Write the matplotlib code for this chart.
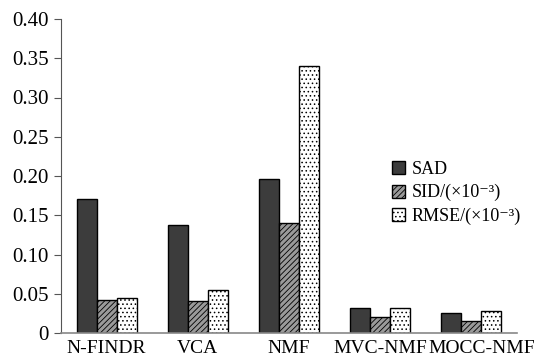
import matplotlib
matplotlib.use("Agg")
import matplotlib.pyplot as plt
import matplotlib.transforms as mtransforms
import numpy as np

categories = ["N-FINDR", "VCA", "NMF", "MVC-NMF", "MOCC-NMF"]
sad = [0.171, 0.138, 0.196, 0.032, 0.025]
sid = [0.042, 0.041, 0.140, 0.021, 0.015]
rmse = [0.044, 0.055, 0.340, 0.032, 0.028]
yticks = [0, 0.05, 0.10, 0.15, 0.20, 0.25, 0.30, 0.35, 0.40]
ytick_labels = ["0", "0.05", "0.10", "0.15", "0.20", "0.25", "0.30", "0.35", "0.40"]
series_labels = ["SAD", "SID/(×10⁻³)", "RMSE/(×10⁻³)"]

plt.rcParams['font.family'] = ['Liberation Serif', 'DejaVu Serif']
plt.rcParams['hatch.linewidth'] = 0.6
plt.rcParams['hatch.color'] = '#222222'

fig = plt.figure(figsize=(5.42, 3.62), dpi=100)
ax = fig.add_axes([61/542, (362-333)/362, (517-61)/542, (333-19)/362])

x = np.arange(len(categories))
w = 0.22
ax.bar(x - w, sad, w, facecolor='#3c3c3c', edgecolor='black', linewidth=1.0, label=series_labels[0])
ax.bar(x, sid, w, facecolor='#9a9a9a', edgecolor='black', linewidth=1.0, hatch='//////', label=series_labels[1])
ax.bar(x + w, rmse, w, facecolor='white', edgecolor='black', linewidth=1.0, hatch='....', label=series_labels[2])

ax.set_xlim(-0.5, 4.5)
ax.set_ylim(0, 0.40)
ax.set_yticks(yticks)
ax.set_yticklabels(ytick_labels)
ax.set_xticks(x)
ax.set_xticklabels(categories)
ax.tick_params(axis='y', direction='out', length=5, width=0.8, color='#555555', labelsize=15, pad=4)
ax.tick_params(axis='x', length=0, labelsize=14, pad=5)
for s in ['top', 'right']:
    ax.spines[s].set_visible(False)
ax.spines['left'].set_color('#555555')
ax.spines['bottom'].set_color('#888888')
ax.spines['bottom'].set_linewidth(1.2)

# nudge last tick label to avoid overlap, as in the reference
lbl = ax.get_xticklabels()[-1]
lbl.set_transform(lbl.get_transform() + mtransforms.ScaledTranslation(10/100, 0, fig.dpi_scale_trans))

leg = ax.legend(loc='upper left', bbox_to_anchor=(0.69, 0.6), frameon=False, fontsize=13,
                handlelength=0.75, handleheight=0.75, handletextpad=0.35, labelspacing=0.35)

fig.savefig("out.png", dpi=100)
